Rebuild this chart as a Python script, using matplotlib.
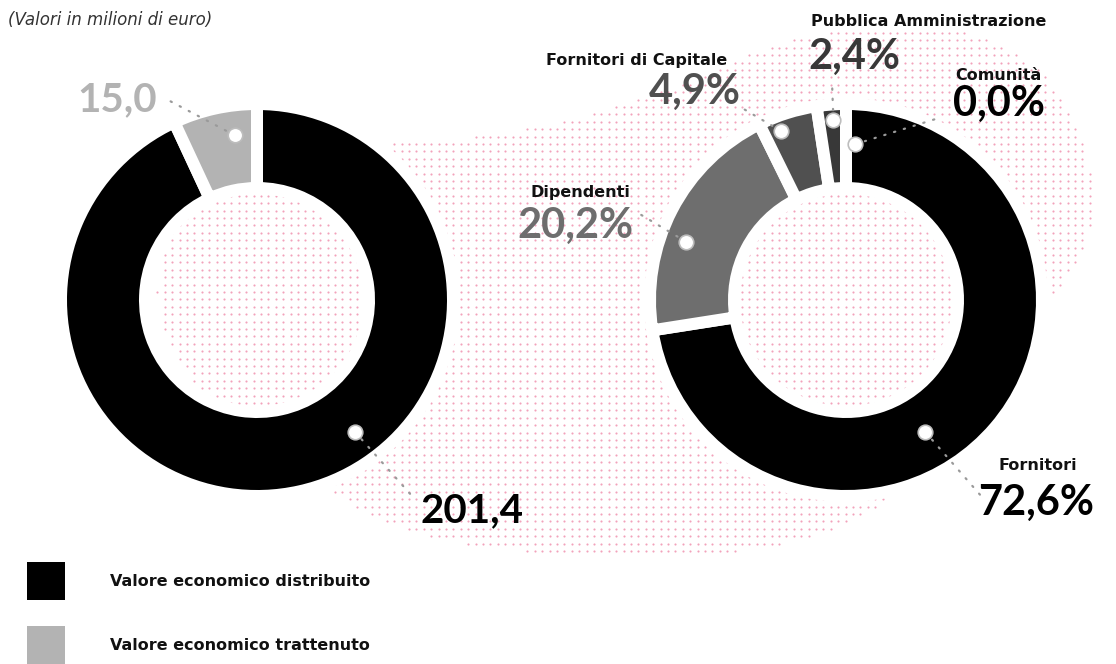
import numpy as np
import matplotlib
matplotlib.use("Agg")
import matplotlib.pyplot as plt
from matplotlib.path import Path

# ---- data ------------------------------------------------------------------
left_labels = ["Valore economico distribuito", "Valore economico trattenuto"]
left_values = [201.4, 15.0]

right_labels = ["Fornitori", "Dipendenti", "Fornitori di Capitale",
                "Pubblica Amministrazione", "Comunità"]
right_pct = [72.6, 20.2, 4.9, 2.4, 0.0]

# ---- style -----------------------------------------------------------------
W, H = 1116, 664
FONT = "Lato"
LABEL_FONT = "DejaVu Sans"
PINK = "#f2a2bb"
LEFT_COLORS = ["#000000", "#b3b3b3"]
RIGHT_COLORS = ["#000000", "#6e6e6e", "#505050", "#383838", "#1a1a1a"]
RIGHT_TEXT = ["#000000", "#6e6e6e", "#505050", "#383838", "#000000"]

R_OUT, R_IN, GAP = 190, 118, 12     # pixels


def P(x, y):
    """pixel (y down) -> data coords"""
    return x, H - y


def fmt(v, pct=False):
    s = f"{v:.1f}".replace(".", ",")
    return s + "%" if pct else s


def chaikin(pts, n=4):
    for _ in range(n):
        q = 0.75 * pts + 0.25 * np.roll(pts, -1, axis=0)
        r = 0.25 * pts + 0.75 * np.roll(pts, -1, axis=0)
        pts = np.empty((2 * len(q), 2))
        pts[0::2], pts[1::2] = q, r
    return pts


fig = plt.figure(figsize=(W / 100, H / 100), dpi=100)
ax = fig.add_axes([0, 0, 1, 1])

# ---- pink dotted backdrop blob ---------------------------------------------
blob = np.array([(190, 180), (300, 150), (450, 140), (560, 125), (680, 85),
                 (780, 40), (880, 25), (990, 32), (1060, 85), (1098, 180),
                 (1085, 265), (1010, 330), (940, 400), (920, 470), (850, 530),
                 (720, 556), (600, 556), (480, 548), (380, 525), (300, 470),
                 (200, 400), (145, 300)], float)
blob = chaikin(blob)
blob[:, 1] = H - blob[:, 1]
path = Path(blob, closed=True)
gx, gy = np.meshgrid(np.arange(2, W, 7.4), np.arange(2, H, 7.4))
g = np.column_stack([gx.ravel(), gy.ravel()])
g = g[path.contains_points(g)]
ax.scatter(g[:, 0], g[:, 1], s=2.4, marker="o", linewidths=0, color=PINK,
           zorder=1)

# ---- donuts ----------------------------------------------------------------
lw_pt = GAP * 0.72
wp = dict(width=R_OUT - R_IN + GAP, edgecolor="white", linewidth=lw_pt,
          zorder=2)
lc = P(257, 300)
rc = P(846, 300)
ax.pie(left_values, colors=LEFT_COLORS, center=lc, radius=R_OUT + GAP / 2,
       startangle=90, counterclock=False, wedgeprops=wp, frame=True)
ax.pie(right_pct, colors=RIGHT_COLORS, center=rc, radius=R_OUT + GAP / 2,
       startangle=90, counterclock=False, wedgeprops=wp, frame=True)


def marker(center, ang, r, end):
    a = np.deg2rad(ang)
    mx, my = center[0] + r * np.cos(a), center[1] + r * np.sin(a)
    ex, ey = P(*end)
    ax.plot([mx, ex], [my, ey], color="#9a9a9a", lw=1.6,
            linestyle=(0, (0.6, 4)), dash_capstyle="round", zorder=3)
    ax.scatter([mx], [my], s=110, color="white", edgecolors="#bdbdbd",
               linewidths=1.2, zorder=4)


# left donut annotations
marker(lc, 97.6, 166, (168, 100))
marker(lc, -53.4, 164, (412, 496))
ax.text(*P(157, 100), fmt(left_values[1]), ha="right", va="center",
        fontsize=29, weight="bold", color=LEFT_COLORS[1], family=FONT)
ax.text(*P(421, 511), fmt(left_values[0]), ha="left", va="center",
        fontsize=29, weight="bold", color="#000000", family=FONT)

# right donut annotations: (marker angle, radius, leader end, name pos,
#                           value pos)
ann = [
    (-59, 154, (982, 497), (998, 465, "left"), (978, 503, "left")),
    (160, 170, (638, 213), (630, 193, "right"), (517, 226, "left")),
    (111, 181, (742, 108), (727, 60, "right"), (741, 92, "right")),
    (94, 180, (832, 82), (929, 22, "center"), (808, 57, "left")),
    (86.7, 156, (942, 117), (998, 75, "center"), (953, 104, "left")),
]
for i, (ang, r, end, npos, vpos) in enumerate(ann):
    marker(rc, ang, r, end)
    ax.text(*P(npos[0], npos[1]), right_labels[i], ha=npos[2], va="center",
            fontsize=11.5, weight="bold", color="#111111", family=LABEL_FONT)
    ax.text(*P(vpos[0], vpos[1]), fmt(right_pct[i], True), ha=vpos[2],
            va="center", fontsize=30, weight="bold", color=RIGHT_TEXT[i],
            family=FONT)

# subtitle
ax.text(*P(8, 20), "(Valori in milioni di euro)", ha="left", va="center",
        fontsize=12, style="italic", color="#333333", family=LABEL_FONT)

# legend
for j, (lab, col) in enumerate(zip(left_labels, LEFT_COLORS)):
    y0 = 562 + 64 * j
    ax.add_patch(plt.Rectangle(P(27, y0 + 38), 38, 38, facecolor=col,
                               edgecolor="none", zorder=3))
    ax.text(*P(110, y0 + 20), lab, ha="left", va="center", fontsize=11.5,
            weight="bold", color="#111111", family=LABEL_FONT)

ax.set_xlim(0, W)
ax.set_ylim(0, H)
ax.set_aspect("equal")
ax.axis("off")
fig.savefig("out.png", dpi=100, facecolor="white")
